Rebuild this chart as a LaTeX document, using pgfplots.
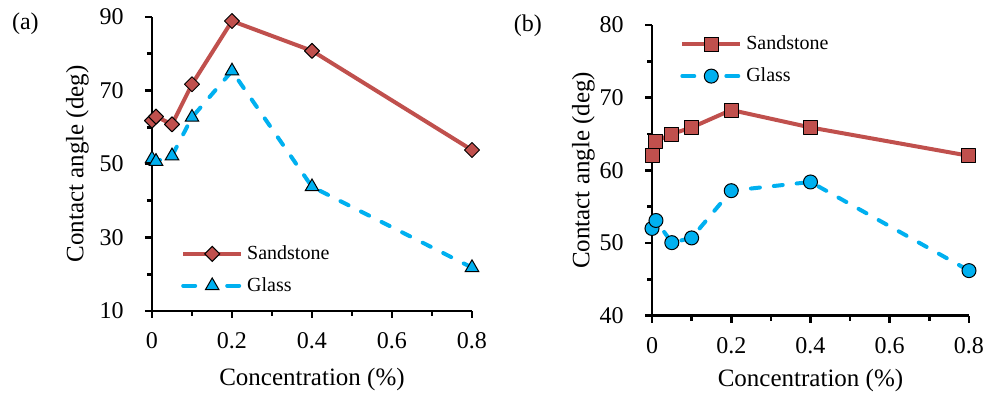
\documentclass[border=0pt]{standalone}
\usepackage{fontspec}
\setmainfont{Liberation Serif}
\usepackage{pgfplots}
\pgfplotsset{compat=1.18}
\definecolor{sred}{RGB}{192,80,77}
\definecolor{gblue}{RGB}{0,176,240}
\pgfplotsset{
  myaxis/.style={
    scale only axis,
    axis lines=left,
    axis line style={-, line width=1.4pt},
    tick style={black, line width=1.3pt},
    tick align=outside,
    major tick length=3.5pt,
    minor tick length=2.5pt,
    xmin=0, xmax=0.8,
    xtick={0,0.2,0.4,0.6,0.8},
    minor x tick num=1,
    minor y tick num=1,
    clip=false,
    /pgf/number format/assume math mode=true,
    tick label style={font=\fontsize{12}{14}\selectfont, inner sep=0pt},
    xticklabel style={anchor=base, yshift=-15.5pt},
    yticklabel style={anchor=east, xshift=-10.5pt},
    label style={font=\fontsize{12.5}{15}\selectfont},
    xlabel={Concentration (\%)},
    ylabel={Contact angle (deg)},
    legend style={draw=none, fill=none, font=\fontsize{10}{12}\selectfont, inner sep=0pt, row sep=3.5pt},
    legend cell align=left,
    legend image code/.code={\draw[mark repeat=2,mark phase=2,#1] plot coordinates {(0pt,0pt) (14.5pt,0pt) (29pt,0pt)};},
  },
  sline/.style={sred, line width=2pt, line join=round},
  gline/.style={gblue, line width=2pt, line cap=round, dash pattern=on 4.5pt off 7pt},
}
\begin{document}
\begin{tikzpicture}
\useasboundingbox (0,0) rectangle (493.5pt,197pt);
\node[anchor=base west, inner sep=0pt, font=\fontsize{12}{14}\selectfont] at (5.85pt,182.25pt) {(a)};
\node[anchor=base west, inner sep=0pt, font=\fontsize{12}{14}\selectfont] at (256.7pt,181.15pt) {(b)};
\begin{axis}[myaxis,
  at={(76pt,41.5pt)}, anchor=south west,
  width=160pt, height=147pt,
  ymin=10, ymax=90, ytick={10,30,50,70,90},
  xlabel style={at={(axis description cs:0.5,-0.255)}, anchor=base},
  ylabel style={at={(axis description cs:-0.2147,0.5)}, anchor=base},
  legend style={at={(axis description cs:0.09,0.238)}, anchor=north west},
]
\addplot[sline, forget plot, mark=square*, mark size=2.65pt, mark options={solid, rotate=45, fill=sred, draw=black, line width=0.5pt}]
  coordinates {(0,61.8) (0.01,62.9) (0.05,60.8) (0.1,71.7) (0.2,88.9) (0.4,80.8) (0.8,53.8)};
\addplot[gline, forget plot, mark=triangle*, mark size=3.9pt, mark options={solid, fill=gblue, draw=black, line width=0.5pt}]
  coordinates {(0,51.4) (0.01,50.7) (0.05,52.2) (0.1,62.7) (0.2,75.3) (0.4,43.8) (0.8,21.8)};
\addlegendimage{sred, line width=2pt, mark=square*, mark size=2.65pt, mark options={solid, rotate=45, fill=sred, draw=black, line width=0.5pt}}
\addlegendentry{Sandstone}
\addlegendimage{gblue, line width=2pt, line cap=round, dash pattern=on 6pt off 16pt, mark=triangle*, mark size=3.9pt, mark options={solid, fill=gblue, draw=black, line width=0.5pt}}
\addlegendentry{Glass}
\end{axis}
\begin{axis}[myaxis,
  at={(326pt,39.15pt)}, anchor=south west,
  width=158.5pt, height=145.35pt,
  ymin=40, ymax=80, ytick={40,50,60,70,80},
  xlabel style={at={(axis description cs:0.5,-0.242)}, anchor=base},
  ylabel style={at={(axis description cs:-0.1978,0.5)}, anchor=base},
  legend style={at={(axis description cs:0.088,0.978)}, anchor=north west},
]
\addplot[sline, forget plot, mark=square*, mark size=3.5pt, mark options={solid, fill=sred, draw=black, line width=0.5pt}]
  coordinates {(0,62.0) (0.01,64.0) (0.05,65.0) (0.1,65.9) (0.2,68.3) (0.4,65.9) (0.8,62.0)};
\addplot[gline, forget plot, mark=*, mark size=3.5pt, mark options={solid, fill=gblue, draw=black, line width=0.5pt}]
  coordinates {(0,52.0) (0.01,53.1) (0.05,50.05) (0.1,50.7) (0.2,57.2) (0.4,58.4) (0.8,46.2)};
\addlegendimage{sred, line width=2pt, mark=square*, mark size=3.5pt, mark options={solid, fill=sred, draw=black, line width=0.5pt}}
\addlegendentry{Sandstone}
\addlegendimage{gblue, line width=2pt, line cap=round, dash pattern=on 6pt off 16pt, mark=*, mark size=3.5pt, mark options={solid, fill=gblue, draw=black, line width=0.5pt}}
\addlegendentry{Glass}
\end{axis}
\end{tikzpicture}
\end{document}
